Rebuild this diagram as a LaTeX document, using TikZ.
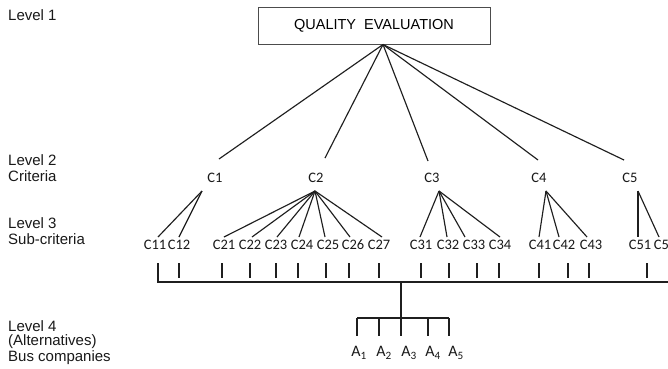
\documentclass[tikz,border=0pt]{standalone}
\usepackage{fontspec}
\setmainfont{Liberation Sans}
\newfontfamily\cfont{Carlito}
\begin{document}
\begin{tikzpicture}[x=1pt,y=-1pt,
  lbl/.style={anchor=west,inner sep=0pt,font=\fontsize{15}{16}\selectfont,text=black!90},
  cl/.style={inner sep=0pt,font=\cfont\fontsize{14.5}{15}\selectfont,text=black!90},
  al/.style={inner sep=0pt,font=\cfont\fontsize{16}{16}\selectfont,text=black!90},
  ln/.style={line width=1.15pt,draw=black!88},
  tk/.style={line width=1.15pt,draw=black!88}]
\useasboundingbox (0,0) rectangle (668,368);
\clip (0,0) rectangle (668,368);
\fill[white] (0,0) rectangle (668,368);

% left labels
\node[lbl] (l1) at (8,15) {Level 1};
\node[lbl] (l2a) at (8,160) {Level 2};
\node[lbl] (l2b) at (8,176) {Criteria};
\node[lbl] (l3a) at (8,223) {Level 3};
\node[lbl] (l3b) at (8,239) {Sub-criteria};
\node[lbl] (l4a) at (8,326) {Level 4};
\node[lbl] (l4b) at (8,342) {(Alternatives)};
\node[lbl] (l4c) at (8,358) {Bus companies};

% title
\node[draw=black!70,line width=1pt,minimum width=232pt,minimum height=37pt,inner sep=0pt,
  font=\fontsize{14.5}{16}\selectfont,text=black] (top) at (374,25.5) {QUALITY\ \ EVALUATION};
\coordinate (apex) at (383,44.5);

% level 2
\node[cl] (C1) at (215,178) {C1};
\node[cl] (C2) at (316,178) {C2};
\node[cl] (C3) at (432,178) {C3};
\node[cl] (C4) at (539,178) {C4};
\node[cl] (C5) at (630,178) {C5};
\coordinate (t1) at (219,159);
\coordinate (t2) at (325,158);
\coordinate (t3) at (428,161);
\coordinate (t4) at (538,160);
\coordinate (t5) at (624,160);
\foreach \i in {1,...,5} \draw[ln] (apex) -- (t\i);

\coordinate (b1) at (202,191);
\coordinate (b2) at (315,191);
\coordinate (b3) at (439,191);
\coordinate (b4) at (546,191);
\coordinate (b5) at (638,191);

% level 3 labels
\foreach \n/\x in {C11/155,C12/179,C21/224,C22/250,C23/276,C24/302,C25/328,C26/353,C27/379,
  C31/421,C32/448,C33/474,C34/500,C41/540,C42/564,C43/591,C51/640,C52/665}
  \node[cl] (\n) at (\x,245) {\n};

% sub-criteria connectors
\foreach \p/\x in {b1/158,b1/179,
  b2/224,b2/252,b2/277,b2/299,b2/325,b2/350,b2/382,
  b3/420,b3/447,b3/465,b3/500,
  b4/539,b4/559,b4/587,
  b5/638,b5/659}
  \draw[ln] (\p) -- (\x,237);

% ticks
\foreach \x in {179,222,250,276,298,326,349,379,421,449,477,499,539,568,589,647}
  \draw[tk] (\x,263) -- (\x,278);
\coordinate (h0) at (158,263);
\coordinate (h1) at (158,282);
\coordinate (h2) at (668,282);
\draw[ln] (h0) -- (h1) -- (h2);

% alternatives
\coordinate (s0) at (401,282);
\coordinate (s1) at (401,318);
\draw[ln] (s0) -- (s1);
\coordinate (bl) at (357,318);
\coordinate (br) at (449,318);
\draw[ln] (bl) -- (br);
\foreach \x in {357,379,401,428,449}
  \draw[tk] (\x,318) -- (\x,336);

\node[al] (A1) at (359,353) {A\textsubscript{1}};
\node[al] (A2) at (384,353) {A\textsubscript{2}};
\node[al] (A3) at (409,353) {A\textsubscript{3}};
\node[al] (A4) at (433,353) {A\textsubscript{4}};
\node[al] (A5) at (456,353) {A\textsubscript{5}};
\end{tikzpicture}
\end{document}
